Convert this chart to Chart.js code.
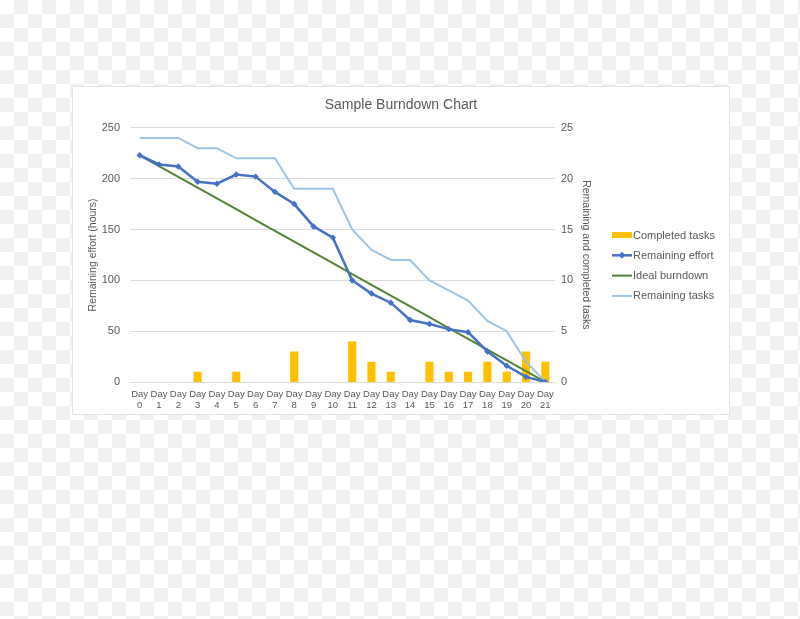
<!DOCTYPE html>
<html>
<head>
<meta charset="utf-8">
<script src="https://cdn.jsdelivr.net/npm/chart.js@4/dist/chart.umd.min.js"></script>
<style>
  html, body { margin: 0; padding: 0; }
  body {
    width: 800px; height: 619px; position: relative; overflow: hidden;
    background-color: #ffffff;
    background-image:
      linear-gradient(45deg, #f0f0f0 25%, transparent 25%, transparent 75%, #f0f0f0 75%),
      linear-gradient(45deg, #f0f0f0 25%, transparent 25%, transparent 75%, #f0f0f0 75%);
    background-size: 28px 28px;
    background-position: 0 0, 14px 14px;
  }
  #panel {
    position: absolute; left: 72px; top: 86px; width: 656px; height: 327px;
    background: #ffffff; border: 1px solid #e4e4e4;
  }
  canvas { display: block; }
</style>
</head>
<body>
<div id="panel"><canvas id="c" width="656" height="327"></canvas></div>
<script>
const categories = [["Day","0"],["Day","1"],["Day","2"],["Day","3"],["Day","4"],["Day","5"],["Day","6"],["Day","7"],["Day","8"],["Day","9"],["Day","10"],["Day","11"],["Day","12"],["Day","13"],["Day","14"],["Day","15"],["Day","16"],["Day","17"],["Day","18"],["Day","19"],["Day","20"],["Day","21"]];
const completedTasks = [0,0,0,1,0,1,0,0,3,0,0,4,2,1,0,2,1,1,2,1,3,2];
const remainingEffort = [223,214,212,197,195,204,202,187,175,153,142,100,87,78,61,57,52,49,30,16,5,0];
const idealBurndown = [223,212.4,201.8,191.1,180.5,169.9,159.3,148.7,138.0,127.4,116.8,106.2,95.6,84.9,74.3,63.7,53.1,42.5,31.9,21.2,10.6,0];
const remainingTasks = [24,24,24,23,23,22,22,22,19,19,19,15,13,12,12,10,9,8,6,5,2,0];
const leftTicks = [0,50,100,150,200,250];
const rightTicks = [0,5,10,15,20,25];
const legendLabels = ['Completed tasks','Remaining effort','Ideal burndown','Remaining tasks'];

const TXT = '#595959';
const FONT = '"Liberation Sans", Arial, sans-serif';
const COLORS = { bar: '#FFC000', effort: '#4472C4', ideal: '#548235', tasks: '#9DC3E6' };

const customLegend = {
  id: 'customLegend',
  afterDraw(chart) {
    const ctx = chart.ctx;
    const x0 = 539, y0 = 148, step = 20.3, bw = 20;
    const items = [
      { text: legendLabels[0], color: COLORS.bar, lw: 6 },
      { text: legendLabels[1], color: COLORS.effort, lw: 2.5, marker: true },
      { text: legendLabels[2], color: COLORS.ideal, lw: 2 },
      { text: legendLabels[3], color: COLORS.tasks, lw: 2 }
    ];
    ctx.save();
    items.forEach((it, i) => {
      const y = y0 + i * step;
      ctx.strokeStyle = it.color;
      ctx.lineWidth = it.lw;
      ctx.beginPath(); ctx.moveTo(x0, y); ctx.lineTo(x0 + bw, y); ctx.stroke();
      if (it.marker) {
        const cx = x0 + bw / 2;
        ctx.fillStyle = it.color;
        ctx.beginPath();
        ctx.moveTo(cx, y - 3.5); ctx.lineTo(cx + 3.5, y); ctx.lineTo(cx, y + 3.5); ctx.lineTo(cx - 3.5, y);
        ctx.closePath(); ctx.fill();
      }
      ctx.fillStyle = TXT;
      ctx.font = '11px ' + FONT;
      ctx.textBaseline = 'middle';
      ctx.textAlign = 'left';
      ctx.fillText(it.text, x0 + bw + 1, y + 0.5);
    });
    ctx.restore();
  }
};

new Chart(document.getElementById('c'), {
  data: {
    labels: categories,
    datasets: [
      { type: 'bar', label: legendLabels[0], data: completedTasks, yAxisID: 'y1',
        backgroundColor: COLORS.bar, barPercentage: 0.42, categoryPercentage: 1.0, order: 4 },
      { type: 'line', label: legendLabels[1], data: remainingEffort, yAxisID: 'y',
        borderColor: COLORS.effort, backgroundColor: COLORS.effort, borderWidth: 2.5,
        pointStyle: 'rectRot', pointRadius: 3.2, pointBorderWidth: 0, tension: 0, order: 1 },
      { type: 'line', label: legendLabels[2], data: idealBurndown, yAxisID: 'y',
        borderColor: COLORS.ideal, borderWidth: 2, pointRadius: 0, tension: 0, order: 2 },
      { type: 'line', label: legendLabels[3], data: remainingTasks, yAxisID: 'y1',
        borderColor: COLORS.tasks, borderWidth: 2, pointRadius: 0, tension: 0, order: 3 }
    ]
  },
  options: {
    responsive: false,
    animation: false,
    layout: { padding: { left: 0, right: 0, top: 0, bottom: 0 } },
    plugins: {
      title: { display: true, text: 'Sample Burndown Chart', color: TXT,
        font: { family: FONT, size: 14, weight: 'normal' }, padding: { top: 10, bottom: 14 } },
      tooltip: { enabled: false },
      legend: { display: false }
    },
    scales: {
      x: {
        grid: { display: false, drawTicks: false }, border: { display: false },
        ticks: { color: TXT, font: { family: FONT, size: 9.5, lineHeight: 1.15 },
          maxRotation: 0, minRotation: 0, autoSkip: false, padding: 7 },
        afterFit(scale) { scale.height = 32; }
      },
      y: {
        position: 'left', min: 0, max: 250,
        afterBuildTicks(axis) { axis.ticks = leftTicks.map(v => ({ value: v })); },
        grid: { color: '#dcdcdc', drawTicks: false, lineWidth: 1 },
        border: { display: false },
        ticks: { color: TXT, font: { family: FONT, size: 11 }, padding: 10 },
        title: { display: true, text: 'Remaining effort (hours)', color: TXT,
          font: { family: FONT, size: 10.5 }, padding: { top: 14, bottom: 0 } },
        afterFit(scale) { scale.width = 57; }
      },
      y1: {
        position: 'right', min: 0, max: 25,
        afterBuildTicks(axis) { axis.ticks = rightTicks.map(v => ({ value: v })); },
        grid: { display: false, drawTicks: false },
        border: { display: false },
        ticks: { color: TXT, font: { family: FONT, size: 11 }, padding: 6 },
        title: { display: true, text: 'Remaining and completed tasks', color: TXT,
          font: { family: FONT, size: 10.5 }, padding: { top: 137, bottom: 0 } },
        afterFit(scale) { scale.width = 174; }
      }
    }
  },
  plugins: [customLegend]
});
</script>
</body>
</html>
